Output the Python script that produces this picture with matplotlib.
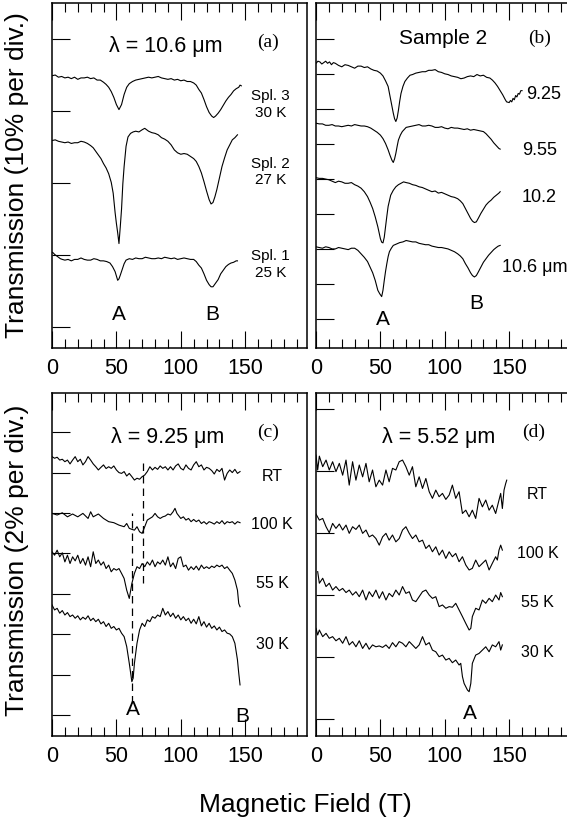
import matplotlib
matplotlib.use("Agg")
import numpy as np
import matplotlib.pyplot as plt
from matplotlib.ticker import MultipleLocator

plt.rcParams['font.family'] = ['Liberation Sans', 'DejaVu Sans']

# ---- panel (a): lambda = 10.6 um, three samples (relative transmission, %) ----
a_labels = ["Spl. 3\n30 K", "Spl. 2\n27 K", "Spl. 1\n25 K"]
a_offsets = [34.9, 25.9, 10.4]
a_spl3_B = [0, 2.5, 5, 7.5, 10, 12.5, 15, 17.5, 20, 22.5,
            25, 27.5, 30, 32.5, 35, 37.5, 40, 42, 44, 46,
            48, 50, 52, 54, 56, 58, 60, 62.5, 65, 67.5,
            70, 72.5, 75, 77.5, 80, 82.5, 85, 87.5, 90, 92.5,
            95, 97.5, 100, 102.5, 105, 107.5, 110, 112, 114, 116,
            118, 120, 122, 124, 125.5, 127, 129, 131, 133, 135,
            137, 139, 141, 143, 145, 146, 147]
a_spl3_T = [0, 0.1, -0.2, -0.1, -0.3, -0.2, -0.4, -0.2, -0.5, -0.3,
            -0.3, -0.2, -0.4, -0.3, -0.6, -0.6, -0.9, -1.2, -1.6, -2.2,
            -3.0, -4.0, -4.7, -4.0, -2.6, -1.6, -1.1, -0.8, -0.6, -0.5,
            -0.4, -0.3, -0.2, -0.3, -0.2, -0.1, -0.3, -0.4, -0.5, -0.4,
            -0.6, -0.5, -0.7, -0.6, -0.8, -0.8, -1.0, -1.3, -1.9, -2.4,
            -3.3, -4.3, -5.1, -5.6, -5.8, -5.6, -5.2, -4.7, -4.1, -3.5,
            -3.0, -2.6, -2.1, -1.8, -1.6, -1.3, -1.4]
a_spl2_B = [0, 2.5, 5, 7.5, 10, 12.5, 15, 17.5, 20, 22.5,
            25, 27.5, 30, 32, 34, 36, 38, 40, 42, 44,
            46, 47.5, 49, 50, 51, 52, 53, 54, 55, 56,
            57.5, 59, 61, 63, 65, 67.5, 70, 72, 73.5, 75,
            77.5, 80, 82.5, 85, 87.5, 90, 92.5, 95, 97.5, 100,
            102.5, 105, 107.5, 110, 112, 114, 116, 118, 120, 122,
            123.5, 125, 126.5, 128, 130, 132, 134, 136, 138, 140,
            142, 143, 144]
a_spl2_T = [0, 0.1, -0.1, -0.2, -0.3, -0.2, -0.4, -0.3, -0.3, -0.1,
            -0.2, -0.4, -0.7, -1.0, -1.5, -2.0, -2.5, -3.2, -3.8, -4.6,
            -5.8, -7.3, -10.0, -11.5, -12.8, -14.3, -12.0, -9.5, -6.0, -3.6,
            -0.8, 0.5, 1.0, 1.2, 1.3, 1.2, 1.5, 1.7, 1.5, 1.3,
            1.1, 1.0, 0.8, 0.4, 0.2, -0.1, -0.6, -1.3, -1.7, -1.9,
            -1.8, -1.9, -2.2, -2.5, -2.9, -3.6, -4.5, -5.7, -7.0, -8.2,
            -8.8, -8.6, -7.8, -6.8, -5.2, -3.6, -2.4, -1.3, -0.6, 0.1,
            0.4, 0.6, 0.8]
a_spl1_B = [0, 1, 2, 3.5, 5, 6.5, 8, 10, 12.5, 15,
            17.5, 20, 22.5, 25, 27.5, 30, 32.5, 35, 37.5, 40,
            42.5, 45, 47, 49, 50, 51, 52, 53, 54.5, 56,
            57.5, 60, 62.5, 65, 67.5, 70, 72.5, 75, 77.5, 80,
            82.5, 85, 87.5, 90, 92.5, 95, 97.5, 100, 102.5, 105,
            107.5, 110, 112, 114, 116, 118, 120, 122, 123.5, 125,
            127, 129, 131, 133, 135, 137, 139, 141, 143, 144]
a_spl1_T = [0, -0.1, -0.3, -0.5, -0.7, -0.9, -1.0, -1.1, -1.0, -1.2,
            -1.0, -1.0, -0.8, -1.0, -1.1, -1.1, -0.9, -1.0, -1.2, -1.2,
            -1.3, -1.5, -2.0, -2.7, -3.3, -3.9, -3.7, -3.2, -2.4, -1.6,
            -1.1, -0.9, -1.0, -0.8, -0.9, -0.9, -0.7, -0.8, -0.9, -0.9,
            -0.8, -0.9, -0.7, -0.8, -0.9, -0.8, -1.0, -0.9, -0.8, -0.9,
            -1.0, -1.0, -1.3, -1.8, -2.2, -3.0, -3.9, -4.5, -4.8, -4.8,
            -4.3, -3.8, -3.0, -2.5, -2.0, -1.7, -1.5, -1.4, -1.2, -1.2]

# ---- panel (b): sample 2, four wavelengths ----
b_labels = ["9.25", "9.55", "10.2", "10.6 \u03bcm"]
b_offsets = [36.5, 27.96, 20.19, 10.33]
b_925_B = [0, 1.5, 3, 4.5, 6, 7.5, 9, 10.5, 12, 13.5,
           15, 17.5, 20, 22.5, 25, 27.5, 30, 32.5, 35, 37.5,
           40, 42.5, 45, 47.5, 50, 52, 54, 56, 58, 60,
           61, 62, 63, 64, 65, 66, 67.5, 69, 71, 73,
           75, 77.5, 80, 82.5, 85, 87.5, 90, 92.5, 95, 97.5,
           100, 102.5, 105, 107.5, 110, 112.5, 115, 117.5, 120, 122.5,
           125, 127.5, 130, 132.5, 135, 137, 139, 141, 143, 145,
           147, 148, 150, 151, 152, 153, 154, 155, 156, 157,
           158, 159, 160]
b_925_T = [0, 0.3, 0.2, -0.1, 0.1, 0.3, 0.0, 0.2, -0.2, 0.1,
           0.0, -0.3, -0.5, -0.2, -0.3, -0.5, -0.7, -0.4, -0.4, -0.6,
           -0.5, -0.8, -1.0, -1.1, -1.4, -1.8, -2.5, -3.3, -5.2, -7.1,
           -7.9, -8.3, -7.8, -6.7, -5.4, -4.3, -3.3, -2.6, -2.1, -1.7,
           -1.6, -1.4, -1.3, -1.2, -1.2, -1.0, -1.0, -0.9, -1.2, -1.3,
           -1.5, -1.6, -1.8, -1.9, -2.0, -2.2, -2.1, -1.9, -1.8, -1.9,
           -1.6, -1.8, -1.7, -2.0, -2.1, -2.4, -2.8, -3.3, -3.9, -4.5,
           -5.2, -5.5, -5.6, -5.3, -5.5, -5.0, -5.2, -4.6, -4.8, -4.3,
           -4.4, -3.9, -3.9]
b_955_B = [0, 2.5, 5, 7.5, 10, 12.5, 15, 17.5, 20, 22.5,
           25, 27.5, 30, 32.5, 35, 37.5, 40, 42.5, 45, 47.5,
           50, 52, 54, 56, 57.5, 59, 60, 61, 62, 63,
           64, 65.5, 67, 70, 72.5, 75, 77.5, 80, 82.5, 85,
           87.5, 90, 92.5, 95, 97.5, 100, 102.5, 105, 107.5, 110,
           112.5, 115, 117.5, 120, 122.5, 125, 127.5, 130, 132, 134,
           136, 138, 140, 141, 142, 143]
b_955_T = [0, -0.1, -0.1, -0.3, -0.3, -0.2, -0.4, -0.4, -0.5, -0.4,
           -0.3, -0.4, -0.2, -0.3, -0.4, -0.4, -0.5, -0.7, -1.0, -1.3,
           -1.7, -2.2, -2.9, -3.8, -4.6, -5.3, -5.6, -5.1, -4.3, -3.3,
           -2.4, -1.7, -1.2, -0.6, -0.5, -0.4, -0.3, -0.2, -0.4, -0.4,
           -0.3, -0.4, -0.6, -0.6, -0.5, -0.7, -0.8, -0.6, -0.7, -0.7,
           -0.8, -0.9, -0.8, -1.0, -0.9, -1.0, -1.1, -1.2, -1.5, -1.9,
           -2.3, -2.8, -3.2, -3.4, -3.6, -3.7]
b_102_B = [0, 2.5, 5, 7.5, 10, 12.5, 15, 17.5, 20, 22.5,
           25, 27.5, 30, 32.5, 35, 37.5, 40, 42, 44, 46,
           48, 50, 51, 52, 53, 54, 55, 56, 58, 60,
           62, 64, 66, 68, 70, 72.5, 75, 77.5, 80, 82.5,
           85, 87.5, 90, 92.5, 95, 97.5, 100, 102.5, 105, 107.5,
           110, 112, 114, 116, 118, 120, 121.5, 123, 124.5, 126,
           128, 130, 132, 134, 136, 138, 140, 142, 143]
b_102_T = [0, -0.1, -0.1, -0.2, -0.3, -0.5, -0.7, -0.5, -0.6, -0.8,
           -0.8, -0.7, -1.0, -1.2, -1.5, -2.0, -2.7, -3.5, -4.4, -5.6,
           -7.0, -8.7, -9.2, -9.3, -8.5, -7.0, -5.5, -4.1, -2.5, -1.8,
           -1.3, -1.0, -0.8, -0.6, -0.7, -0.8, -1.0, -1.1, -1.3, -1.4,
           -1.6, -1.8, -2.0, -1.9, -2.2, -2.1, -2.3, -2.5, -2.7, -2.8,
           -3.0, -3.3, -3.7, -4.4, -5.1, -5.8, -6.2, -6.4, -6.3, -5.8,
           -5.1, -4.5, -3.9, -3.5, -3.2, -2.8, -2.5, -2.2, -2.0]
b_106_B = [0, 2.5, 5, 7.5, 10, 12.5, 15, 17.5, 20, 22.5,
           25, 27.5, 30, 32.5, 35, 37.5, 40, 42, 44, 46,
           48, 49.5, 51, 52, 53, 54, 55, 56, 57, 58.5,
           60, 62.5, 65, 67.5, 70, 72.5, 75, 77.5, 80, 82.5,
           85, 87.5, 90, 92.5, 95, 97.5, 100, 102.5, 105, 107.5,
           110, 112, 114, 116, 118, 120, 121.5, 123, 124.5, 126,
           128, 130, 132, 134, 136, 138, 140, 141.5, 143]
b_106_T = [0, -0.1, -0.2, 0.0, -0.1, -0.3, -0.3, -0.1, -0.2, -0.3,
           -0.4, -0.2, -0.2, -0.5, -1.0, -1.5, -2.1, -2.9, -3.7, -4.8,
           -6.2, -6.7, -7.1, -6.2, -4.8, -3.5, -2.4, -1.4, -0.7, -0.2,
           0.2, 0.4, 0.6, 0.7, 0.9, 0.8, 0.7, 0.7, 0.5, 0.4,
           0.3, 0.3, 0.1, 0.0, -0.1, -0.1, -0.2, -0.3, -0.5, -0.7,
           -1.0, -1.3, -1.7, -2.4, -3.0, -3.7, -4.1, -4.3, -4.1, -3.6,
           -2.9, -2.2, -1.7, -1.2, -0.8, -0.4, -0.1, 0.1, 0.2]

# ---- panel (c): lambda = 9.25 um, temperatures ----
c_labels = ["RT", "100 K", "55 K", "30 K"]
c_offsets = [12.79, 9.98, 8.08, 5.45]
c_RT_B = [0, 2, 4, 6, 8, 10, 12, 14, 16, 18, 20, 22, 24, 26, 28, 30, 32, 34, 36, 38,
          40, 42, 44, 46, 48, 50, 52, 54, 56, 58, 60, 62, 64, 66, 68, 70, 72, 74, 76, 78,
          80, 82, 84, 86, 88, 90, 92, 94, 96, 98, 100, 102, 104, 106, 108, 110, 112, 114, 116, 118,
          120, 122, 124, 126, 128, 130, 132, 134, 136, 138, 140, 142, 144, 146]
c_RT_T = [0, -0.08, -0.03, -0.17, -0.13, -0.25, -0.17, -0.36, -0.17, 0.0,
          -0.25, -0.13, -0.41, -0.25, 0.0, -0.17, -0.36, -0.50, -0.66, -0.53,
          -0.41, -0.59, -0.50, -0.58, -0.46, -0.66, -0.79, -0.83, -0.74, -0.96,
          -0.83, -0.99, -1.16, -1.07, -1.12, -0.99, -0.91, -0.74, -0.50, -0.66,
          -0.53, -0.63, -0.46, -0.58, -0.50, -0.66, -0.50, -0.66, -0.46, -0.36,
          -0.58, -0.66, -0.41, -0.58, -0.66, -0.41, -0.25, -0.50, -0.41, -0.66,
          -0.53, -0.58, -0.69, -0.86, -0.63, -0.74, -0.58, -1.16, -0.83, -0.66,
          -0.79, -0.63, -0.83, -0.74]
c_100_B = [0, 4, 8, 12, 16, 20, 24, 28, 30, 32, 36, 40, 44, 48, 52, 56, 58, 60, 62, 64,
           66, 68, 70, 72, 74, 76, 78, 80, 82, 84, 86, 88, 90, 92, 94, 95.5, 97, 100, 102, 104,
           106, 108, 110, 112, 114, 116, 118, 120, 122, 124, 126, 128, 130, 132, 134, 136, 138, 140, 142, 144,
           146]
c_100_T = [0, -0.08, 0.03, -0.17, -0.03, -0.17, 0, -0.25, 0.08, -0.17,
           -0.03, -0.25, -0.41, -0.46, -0.58, -0.66, -0.5, -0.74, -0.79, -0.83,
           -0.66, -0.91, -0.99, -0.66, -0.33, -0.25, -0.17, 0, -0.17, -0.25,
           -0.17, -0.13, -0.03, -0.08, 0.08, 0.25, 0, -0.25, -0.17, -0.33,
           -0.25, -0.41, -0.30, -0.41, -0.33, -0.50, -0.41, -0.53, -0.41, -0.46,
           -0.53, -0.41, -0.5, -0.36, -0.53, -0.41, -0.46, -0.41, -0.53, -0.41,
           -0.46]
c_55_B = [0, 2, 4, 6, 8, 10, 12, 14, 16, 18, 20, 22, 24, 26, 28, 30, 32, 34, 36, 38,
          40, 42, 44, 46, 48, 50, 52, 54, 56, 58, 60, 62, 64, 66, 68, 70, 72, 74, 76, 78,
          80, 82, 84, 86, 88, 90, 92, 94, 96, 98, 100, 102, 104, 106, 108, 110, 112, 114, 116, 118,
          120, 122, 124, 126, 128, 130, 132, 134, 136, 138, 140, 142, 144, 145, 146]
c_55_T = [0, -0.17, 0.08, -0.25, -0.05, -0.5, -0.17, -0.58, -0.25, -0.45,
          -0.17, -0.58, -0.33, -0.66, -0.25, -0.74, 0.0, -0.58, -0.41, -0.66,
          -0.5, -0.83, -0.66, -0.99, -0.83, -0.91, -0.83, -1.07, -1.32, -1.90,
          -2.31, -1.57, -1.07, -0.74, -0.83, -0.58, -0.74, -0.50, -0.66, -0.41,
          -0.74, -0.50, -0.61, -0.41, -0.66, -0.25, -0.74, -0.55, -0.83, -0.33,
          -0.25, -0.74, -0.66, -0.91, -0.74, -0.88, -0.71, -0.91, -0.66, -0.83,
          -0.74, -0.83, -0.71, -0.78, -0.66, -0.74, -0.66, -0.83, -0.74, -0.91,
          -1.07, -1.40, -1.90, -2.56, -2.72]
c_30_B = [0, 2, 4, 6, 8, 10, 12, 14, 16, 18, 20, 22, 24, 26, 28, 30, 32, 34, 36, 38,
          40, 42, 44, 46, 48, 50, 52, 54, 56, 58, 60, 62, 63, 64, 66, 68, 70, 72, 74, 76,
          78, 80, 82, 84, 86, 88, 90, 92, 94, 96, 98, 100, 102, 104, 106, 108, 110, 112, 114, 116,
          118, 120, 122, 124, 126, 128, 130, 132, 134, 136, 138, 140, 142, 144, 145, 146]
c_30_T = [0, -0.25, -0.17, -0.41, -0.28, -0.5, -0.38, -0.58, -0.5, -0.66,
          -0.54, -0.74, -0.61, -0.71, -0.54, -0.78, -0.66, -0.83, -0.71, -0.94,
          -0.83, -1.07, -0.91, -1.16, -1.07, -1.24, -1.16, -1.40, -1.57, -2.06,
          -2.89, -3.80, -3.63,
          -2.89, -1.90, -1.24, -0.91, -1.07, -0.74, -0.83, -0.58, -0.66, -0.50,
          -0.58, -0.17, -0.50, -0.33, -0.58, -0.41, -0.66, -0.50, -0.74, -0.58,
          -0.78, -0.66, -0.91, -0.71, -0.94, -0.58, -1.04, -0.83, -1.10, -0.91,
          -1.16, -1.04, -1.24, -1.10, -1.32, -1.24, -1.40, -1.44, -1.57, -1.90,
          -2.72, -3.38, -3.96]
c_dash_B = [62.0, 70.5]
c_dash_lo = [0.59, 6.53]
c_dash_hi = [10.0, 12.62]

# ---- panel (d): lambda = 5.52 um, temperatures ----
d_labels = ["RT", "100 K", "55 K", "30 K"]
d_offsets = [12.75, 9.90, 7.12, 4.38]
d_RT_B = [0, 1.3, 2.6, 5.2, 7.8, 10.3, 12.9, 15.5, 18.1, 20.7, 23.3, 25.8, 28.4,
          31.0, 33.6, 36.2, 38.8, 41.3, 43.9, 46.5, 49.1, 51.7, 54.3,
          56.8, 59.4, 62.0, 64.6, 67.2, 69.8, 72.4, 74.9, 77.5, 80.1,
          82.7, 85.3, 87.9, 90.4, 93.0, 95.6, 98.2, 100.8, 103.4, 105.9,
          108.5, 111.1, 113.7, 116.3, 118.9, 121.4, 124.0, 126.6, 129.2, 131.8,
          134.4, 136.9, 139.5, 142.1, 143.4, 144.7, 146.0, 147.3, 148.1]
d_RT_T = [0, -0.72, -0.05, -0.56, -0.24, -0.72, -0.32, -0.80, -0.40, -0.97, -0.24, -1.45, -0.32,
          -1.21, -0.48, -1.05, -0.40, -1.29, -0.72, -1.53, -1.21, -1.45, -0.72,
          -1.29, -0.64, -0.72, -0.32, -0.24, -0.56, -0.97, -0.56, -1.53, -1.05,
          -1.61, -1.13, -1.77, -2.09, -1.69, -2.01, -1.85, -2.14, -1.93, -1.45,
          -2.09, -1.77, -2.82, -2.66, -2.98, -2.66, -3.06, -2.09, -2.50, -2.17,
          -2.66, -2.42, -2.82, -2.17, -1.85, -2.58, -1.69, -1.37, -1.21]
d_100_B = [0, 2.6, 5.2, 7.8, 10.3, 12.9, 15.5, 18.1, 20.7, 23.3, 25.8, 28.4,
           31.0, 33.6, 36.2, 38.8, 41.3, 43.9, 46.5, 49.1, 51.7, 54.3,
           56.8, 59.4, 62.0, 64.6, 67.2, 69.8, 72.4, 74.9, 77.5, 80.1,
           82.7, 85.3, 87.9, 90.4, 93.0, 95.6, 98.2, 100.8, 103.4, 105.9,
           108.5, 111.1, 113.7, 116.3, 118.9, 121.4, 124.0, 126.6, 129.2, 131.8,
           134.4, 136.9, 139.5, 140.8, 142.1, 143.4, 144.7]
d_100_T = [0, -0.29, -0.21, -0.61, -0.90, -0.45, -0.69, -0.48, -0.77, -0.53, -0.93, -0.61,
           -0.74, -0.53, -0.93, -0.77, -1.10, -1.01, -1.18, -1.50, -1.10, -0.93,
           -1.26, -1.01, -1.34, -1.18, -0.77, -0.61, -0.93, -1.18, -1.01, -1.34,
           -1.26, -1.66, -1.50, -1.82, -1.58, -1.98, -1.74, -2.14, -1.82, -2.06,
           -1.90, -2.30, -2.06, -2.46, -2.70, -2.62, -2.22, -2.54, -2.38, -2.22,
           -2.70, -2.38, -2.06, -2.22, -1.74, -1.50, -1.74]
d_55_B = [1.3, 2.6, 5.2, 7.8, 10.3, 12.9, 15.5, 18.1, 20.7, 23.3, 25.8, 28.4,
          31.0, 33.6, 36.2, 38.8, 41.3, 43.9, 46.5, 49.1, 51.7, 54.3,
          56.8, 59.4, 62.0, 64.6, 67.2, 69.8, 72.4, 74.9, 77.5, 80.1,
          82.7, 85.3, 87.9, 90.4, 93.0, 95.6, 98.2, 100.8, 103.4, 105.9,
          108.5, 111.1, 113.7, 116.3, 118.9,
          120.2, 121.4, 124.0, 126.6, 129.2, 131.8, 134.4, 136.9, 139.5, 142.1, 143.4, 144.7]
d_55_T = [0, -0.56, -0.32, -0.72, -0.56, -0.89, -0.72, -0.92, -0.81, -1.01, -0.89, -1.13,
          -0.97, -1.21, -0.89, -1.37, -0.97, -1.21, -0.89, -1.29, -0.97, -1.37,
          -1.05, -1.21, -0.89, -1.13, -0.72, -1.05, -0.97, -1.37, -1.45, -1.21,
          -0.97, -0.89, -1.13, -1.29, -1.21, -1.69, -1.61, -1.77, -1.69, -1.72,
          -1.53, -1.85, -2.17, -2.50, -2.82,
          -2.74, -2.17, -1.77, -1.85, -1.37, -1.53, -1.29, -1.45, -1.13, -1.37, -1.01, -1.21]
d_30_B = [0, 1.3, 2.6, 5.2, 7.8, 10.3, 12.9, 15.5, 18.1, 20.7, 23.3, 25.8, 28.4,
          31.0, 33.6, 36.2, 38.8, 41.3, 43.9, 46.5, 49.1, 51.7, 54.3,
          56.8, 59.4, 62.0, 64.6, 67.2, 69.8, 72.4, 74.9, 77.5, 80.1,
          82.7, 85.3, 87.9, 90.4, 93.0, 95.6, 98.2, 100.8, 103.4, 105.9,
          108.5, 111.1, 112.4, 113.7, 115.0, 116.3, 117.6, 118.9, 120.2, 121.4,
          124.0, 126.6, 129.2, 131.8, 134.4, 136.9, 139.5, 142.1, 143.4, 144.7]
d_30_T = [0, -0.32, -0.08, -0.40, -0.24, -0.48, -0.40, -0.60, -0.48, -0.72, -0.40, -0.80, -0.64,
          -0.89, -0.60, -0.97, -0.72, -1.01, -0.80, -0.89, -0.85, -0.92, -0.80,
          -0.97, -0.69, -0.89, -0.64, -0.72, -0.89, -0.64, -0.80, -0.97, -0.80,
          -0.40, -0.80, -0.69, -1.05, -1.13, -1.37, -1.29, -1.53, -1.45, -1.66,
          -1.53, -1.77, -1.69, -2.33, -2.66, -2.82, -2.98, -3.06, -2.66, -1.69,
          -1.29, -1.21, -1.05, -0.89, -1.13, -0.80, -0.89, -0.64, -1.05, -0.80]


def style_axes(ax, ylim, yticks):
    ax.set_xlim(0, 198)
    ax.set_ylim(*ylim)
    ax.set_yticks(yticks)
    ax.xaxis.set_major_locator(MultipleLocator(50))
    ax.xaxis.set_minor_locator(MultipleLocator(10))
    ax.tick_params(axis='x', which='both', direction='in', top=True, bottom=True,
                   labelsize=15.5, pad=7, width=0.8)
    ax.tick_params(axis='x', which='major', length=12)
    ax.tick_params(axis='x', which='minor', length=6.5)
    ax.tick_params(axis='y', which='major', direction='in', left=True, right=False,
                   length=13, width=0.8, labelleft=False)
    for sp in ax.spines.values():
        sp.set_linewidth(1.1)


def draw_traces(ax, traces, offsets):
    for (B, T), off in zip(traces, offsets):
        ax.plot(B, np.array(T) + off, color='black', lw=0.8)


fig = plt.figure(figsize=(5.67, 8.19), dpi=100)
W, H = 255 / 567, 345 / 819
ax_a = fig.add_axes([52 / 567, 1 - 348 / 819, W, H])
ax_b = fig.add_axes([316 / 567, 1 - 348 / 819, W, H])
ax_c = fig.add_axes([52 / 567, 1 - 736 / 819, W, 343 / 819])
ax_d = fig.add_axes([316 / 567, 1 - 736 / 819, W, 343 / 819])

style_axes(ax_a, (-2.9, 45), np.arange(0, 41, 10))
style_axes(ax_b, (-4.1, 45.1), np.arange(0, 41, 5))
style_axes(ax_c, (-1.04, 15.94), np.arange(0, 15, 2))
style_axes(ax_d, (-0.82, 15.75), np.arange(0, 16, 3))

lab_kw = dict(ha='center', va='center', fontsize=11, linespacing=1.2)
serif_kw = dict(ha='center', va='center', fontsize=14, family='Liberation Serif')

# (a)
draw_traces(ax_a, [(a_spl3_B, a_spl3_T), (a_spl2_B, a_spl2_T), (a_spl1_B, a_spl1_T)], a_offsets)
ax_a.text(88.6, 38.9, "\u03bb = 10.6 \u03bcm", ha='center', va='center', fontsize=15.5)
ax_a.text(168, 39.5, "(a)", **serif_kw)
for lab, y in zip(a_labels, [30.9, 21.5, 8.7]):
    ax_a.text(169.5, y, lab, **lab_kw)
ax_a.text(52, 1.7, "A", ha='center', va='center', fontsize=15)
ax_a.text(124.5, 1.7, "B", ha='center', va='center', fontsize=15)

# (b)
draw_traces(ax_b, [(b_925_B, b_925_T), (b_955_B, b_955_T), (b_102_B, b_102_T), (b_106_B, b_106_T)], b_offsets)
ax_b.text(99, 40.1, "Sample 2", ha='center', va='center', fontsize=15)
ax_b.text(173.6, 40.1, "(b)", **serif_kw)
for lab, x, y in zip(b_labels, [176.5, 173.5, 173.5, 169.5], [32.1, 24.1, 17.3, 7.4]):
    ax_b.text(x, y, lab, ha='center', va='center', fontsize=13)
ax_b.text(52, -0.1, "A", ha='center', va='center', fontsize=15)
ax_b.text(124.6, 2.3, "B", ha='center', va='center', fontsize=15)

# (c)
draw_traces(ax_c, [(c_RT_B, c_RT_T), (c_100_B, c_100_T), (c_55_B, c_55_T), (c_30_B, c_30_T)], c_offsets)
ax_c.vlines(c_dash_B, c_dash_lo, c_dash_hi, colors='black', lw=0.9, linestyles=(0, (6, 4)))
ax_c.text(89.4, 13.76, "\u03bb = 9.25 \u03bcm", ha='center', va='center', fontsize=15.5)
ax_c.text(168, 14.0, "(c)", **serif_kw)
for lab, y in zip(c_labels, [11.83, 9.41, 6.53, 3.47]):
    ax_c.text(171, y, lab, ha='center', va='center', fontsize=11.5)
ax_c.text(63, 0.25, "A", ha='center', va='center', fontsize=15)
ax_c.text(147.4, -0.05, "B", ha='center', va='center', fontsize=15)

# (d)
draw_traces(ax_d, [(d_RT_B, d_RT_T), (d_100_B, d_100_T), (d_55_B, d_55_T), (d_30_B, d_30_T)], d_offsets)
ax_d.text(95.3, 13.62, "\u03bb = 5.52 \u03bcm", ha='center', va='center', fontsize=15.5)
ax_d.text(169, 13.86, "(d)", **serif_kw)
for lab, y in zip(d_labels, [10.87, 8.02, 5.65, 3.19]):
    ax_d.text(172, y, lab, ha='center', va='center', fontsize=11.5)
ax_d.text(119.4, 0.29, "A", ha='center', va='center', fontsize=15)

fig.text(17 / 567, 1 - 175 / 819, "Transmission (10% per div.)", rotation=90,
         ha='center', va='center', fontsize=19)
fig.text(17 / 567, 1 - 560 / 819, "Transmission (2% per div.)", rotation=90,
         ha='center', va='center', fontsize=19)
fig.text(305 / 567, 1 - 805 / 819, "Magnetic Field (T)", ha='center', va='center', fontsize=19)

fig.savefig("out.png", dpi=100)
